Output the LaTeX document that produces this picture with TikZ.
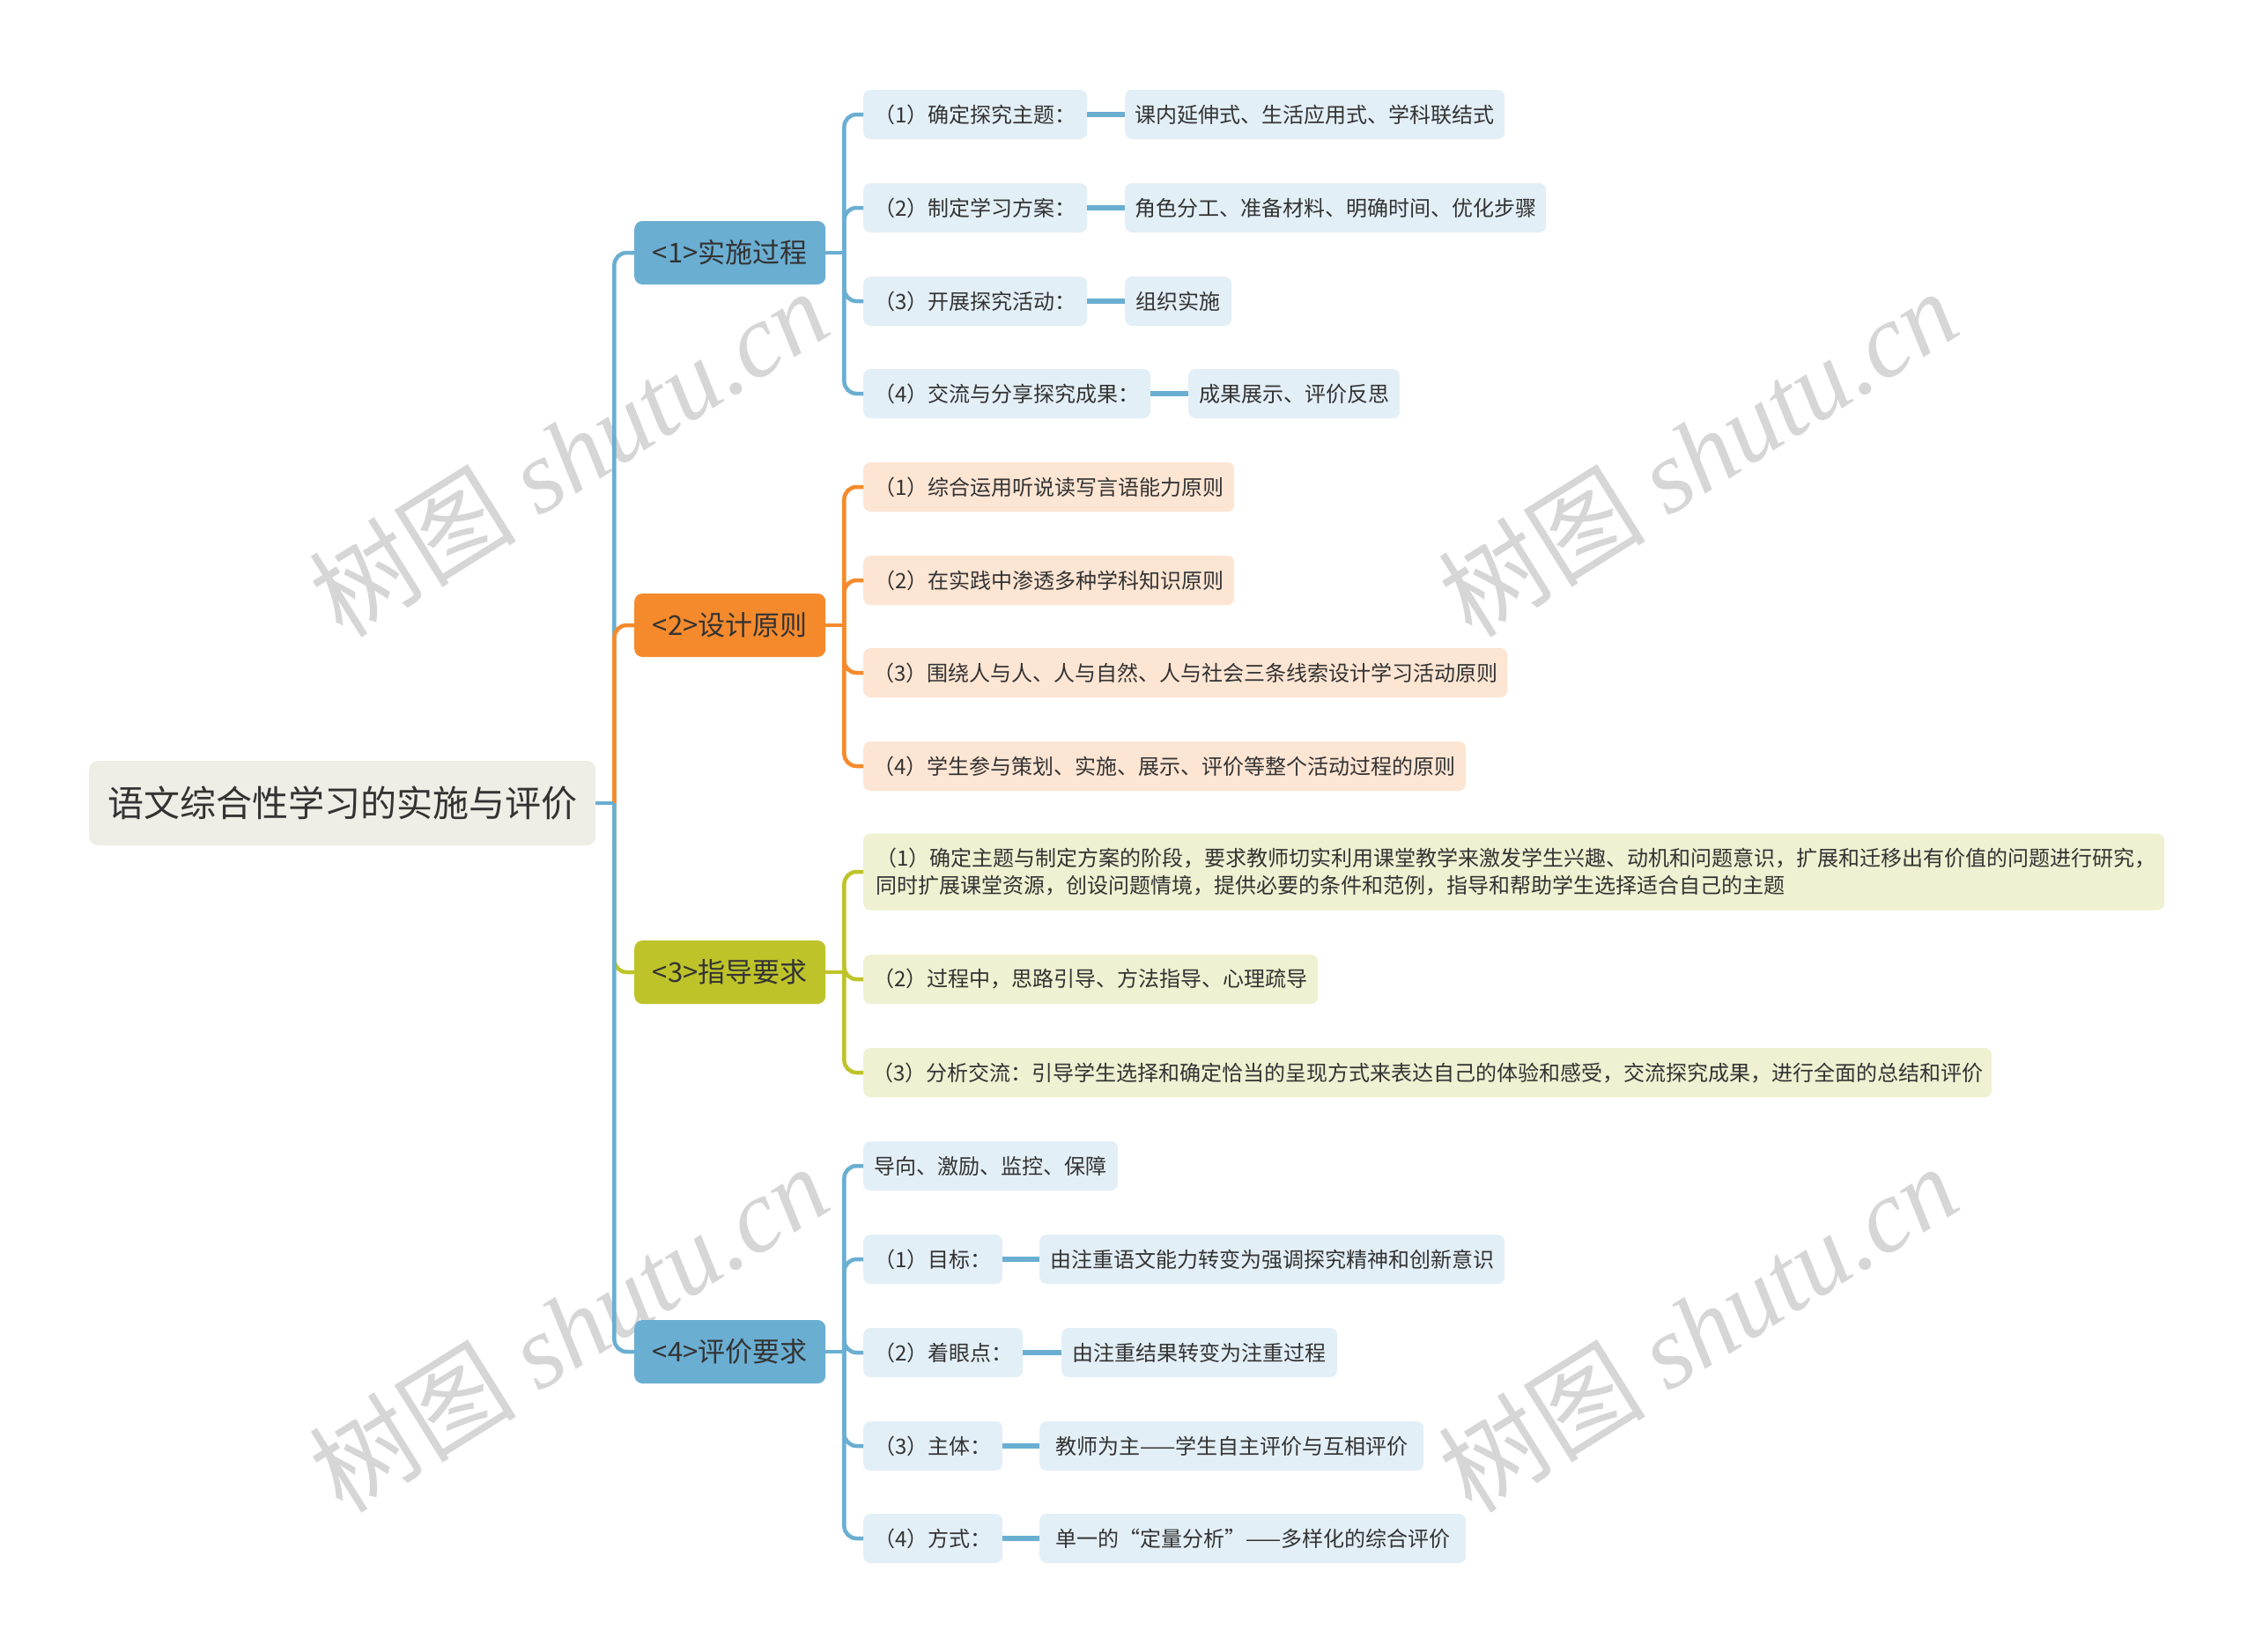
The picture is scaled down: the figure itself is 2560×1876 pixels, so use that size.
\documentclass[tikz,border=0pt]{standalone}
\usepackage{fontspec}
\setmainfont{Noto Sans CJK SC}
\newfontfamily\wmfont{Liberation Serif}
\usetikzlibrary{calc}
\definecolor{bl}{HTML}{6AAED2}
\definecolor{bllight}{HTML}{E3EFF6}
\definecolor{orc}{HTML}{F58A2C}
\definecolor{orlight}{HTML}{FDE5D3}
\definecolor{yg}{HTML}{BEC32A}
\definecolor{yglight}{HTML}{F0F0D2}
\definecolor{rootfill}{HTML}{EEEEE6}
\definecolor{txt}{HTML}{333333}
\definecolor{wmgray}{HTML}{D6D6D6}
\tikzset{
  basebox/.style={rounded corners=8pt, text=txt, inner sep=0pt, anchor=west},
  rootbox/.style={basebox, fill=rootfill, rounded corners=10pt, minimum height=96pt, minimum width=575pt, font=\fontsize{41}{48}\selectfont},
  topbox/.style={basebox, minimum height=72pt, minimum width=217pt, rounded corners=9pt, font=\fontsize{31}{36}\selectfont},
  leaf/.style={basebox, minimum height=56pt, font=\fontsize{24}{31}\selectfont},
  bleaf/.style={leaf, fill=bllight},
  oleaf/.style={leaf, fill=orlight},
  yleaf/.style={leaf, fill=yglight},
  lnk/.style={line width=4.5pt},
  rlnk/.style={line width=4.5pt, rounded corners=14pt},
  barlnk/.style={line width=6pt},
  wm/.style={text=wmgray, rotate=32, inner sep=0pt, font=\fontsize{118}{124}\selectfont}
}
\begin{document}
\begin{tikzpicture}[x=1pt,y=-1pt]
\useasboundingbox[fill=white] (0,0) rectangle (2560,1876);

% watermarks (behind everything)
\node[wm] (w1) at (645,514) {树图 {\wmfont\itshape shutu.cn}};
\node[wm] (w2) at (1927,514) {树图 {\wmfont\itshape shutu.cn}};
\node[wm] (w3) at (645,1508) {树图 {\wmfont\itshape shutu.cn}};
\node[wm] (w4) at (1927,1508) {树图 {\wmfont\itshape shutu.cn}};

% root
\node[rootbox] (root) at (101,912) {语文综合性学习的实施与评价};

% level 1
\node[topbox, fill=bl] (na) at (720,287) {<1>实施过程};
\node[topbox, fill=orc] (nb) at (720,710) {<2>设计原则};
\node[topbox, fill=yg] (nc) at (720,1104) {<3>指导要求};
\node[topbox, fill=bl] (nd) at (720,1535) {<4>评价要求};

% branch a
\node[bleaf, minimum width=254pt] (a1) at (980,130) {（1）确定探究主题：};
\node[bleaf, minimum width=431pt] (a1x) at (1277,130) {课内延伸式、生活应用式、学科联结式};
\node[bleaf, minimum width=254pt] (a2) at (980,236) {（2）制定学习方案：};
\node[bleaf, minimum width=478pt] (a2x) at (1277,236) {角色分工、准备材料、明确时间、优化步骤};
\node[bleaf, minimum width=254pt] (a3) at (980,342) {（3）开展探究活动：};
\node[bleaf, minimum width=121pt] (a3x) at (1277,342) {组织实施};
\node[bleaf, minimum width=326pt] (a4) at (980,447) {（4）交流与分享探究成果：};
\node[bleaf, minimum width=240pt] (a4x) at (1349,447) {成果展示、评价反思};

% branch b
\node[oleaf, minimum width=421pt] (b1) at (980,553) {（1）综合运用听说读写言语能力原则};
\node[oleaf, minimum width=421pt] (b2) at (980,659) {（2）在实践中渗透多种学科知识原则};
\node[oleaf, minimum width=731pt] (b3) at (980,764) {（3）围绕人与人、人与自然、人与社会三条线索设计学习活动原则};
\node[oleaf, minimum width=684pt] (b4) at (980,870) {（4）学生参与策划、实施、展示、评价等整个活动过程的原则};

% branch c
\node[yleaf, minimum height=87pt, text width=1449pt, inner xsep=14pt, align=left] (c1) at (980,990) {（1）确定主题与制定方案的阶段，要求教师切实利用课堂教学来激发学生兴趣、动机和问题意识，扩展和迁移出有价值的问题进行研究，\\同时扩展课堂资源，创设问题情境，提供必要的条件和范例，指导和帮助学生选择适合自己的主题};
\node[yleaf, minimum width=516pt] (c2) at (980,1112) {（2）过程中，思路引导、方法指导、心理疏导};
\node[yleaf, minimum width=1281pt] (c3) at (980,1218) {（3）分析交流：引导学生选择和确定恰当的呈现方式来表达自己的体验和感受，交流探究成果，进行全面的总结和评价};

% branch d
\node[bleaf, minimum width=289pt] (d0) at (980,1324) {导向、激励、监控、保障};
\node[bleaf, minimum width=158pt] (d1) at (980,1430) {（1）目标：};
\node[bleaf, minimum width=528pt] (d1x) at (1180,1430) {由注重语文能力转变为强调探究精神和创新意识};
\node[bleaf, minimum width=181pt] (d2) at (980,1536) {（2）着眼点：};
\node[bleaf, minimum width=313pt] (d2x) at (1205,1536) {由注重结果转变为注重过程};
\node[bleaf, minimum width=158pt] (d3) at (980,1642) {（3）主体：};
\node[bleaf, minimum width=436pt] (d3x) at (1180,1642) {教师为主——学生自主评价与互相评价};
\node[bleaf, minimum width=158pt] (d4) at (980,1747) {（4）方式：};
\node[bleaf, minimum width=484pt] (d4x) at (1180,1747) {单一的“定量分析”——多样化的综合评价};

% spine coordinates
\coordinate (s0) at ($(root.east)+(21,0)$);
\coordinate (sa) at ($(na.east)+(21,0)$);
\coordinate (sb) at ($(nb.east)+(21,0)$);
\coordinate (sc) at ($(nc.east)+(21,0)$);
\coordinate (sd) at ($(nd.east)+(21,0)$);

% trunk
\draw[bl, rlnk] (s0) |- (na.west);
\draw[yg, rlnk] (s0) |- (nc.west);
\draw[orc, rlnk] (s0) |- (nb.west);
\draw[bl, rlnk] (s0) |- (nd.west);
\draw[bl, lnk] (root.east) -- (s0);

% branch a
\draw[bl, lnk] (na.east) -- (sa);
\foreach \n in {a1,a2,a3,a4} { \draw[bl, rlnk] (sa) |- (\n.west); }
\draw[bl, barlnk] (a1.east) -- (a1x.west);
\draw[bl, barlnk] (a2.east) -- (a2x.west);
\draw[bl, barlnk] (a3.east) -- (a3x.west);
\draw[bl, barlnk] (a4.east) -- (a4x.west);

% branch b
\draw[orc, lnk] (nb.east) -- (sb);
\foreach \n in {b1,b2,b3,b4} { \draw[orc, rlnk] (sb) |- (\n.west); }

% branch c
\draw[yg, lnk] (nc.east) -- (sc);
\foreach \n in {c1,c2,c3} { \draw[yg, rlnk] (sc) |- (\n.west); }

% branch d
\draw[bl, lnk] (nd.east) -- (sd);
\foreach \n in {d0,d1,d2,d3,d4} { \draw[bl, rlnk] (sd) |- (\n.west); }
\draw[bl, barlnk] (d1.east) -- (d1x.west);
\draw[bl, barlnk] (d2.east) -- (d2x.west);
\draw[bl, barlnk] (d3.east) -- (d3x.west);
\draw[bl, barlnk] (d4.east) -- (d4x.west);
\end{tikzpicture}
\end{document}
